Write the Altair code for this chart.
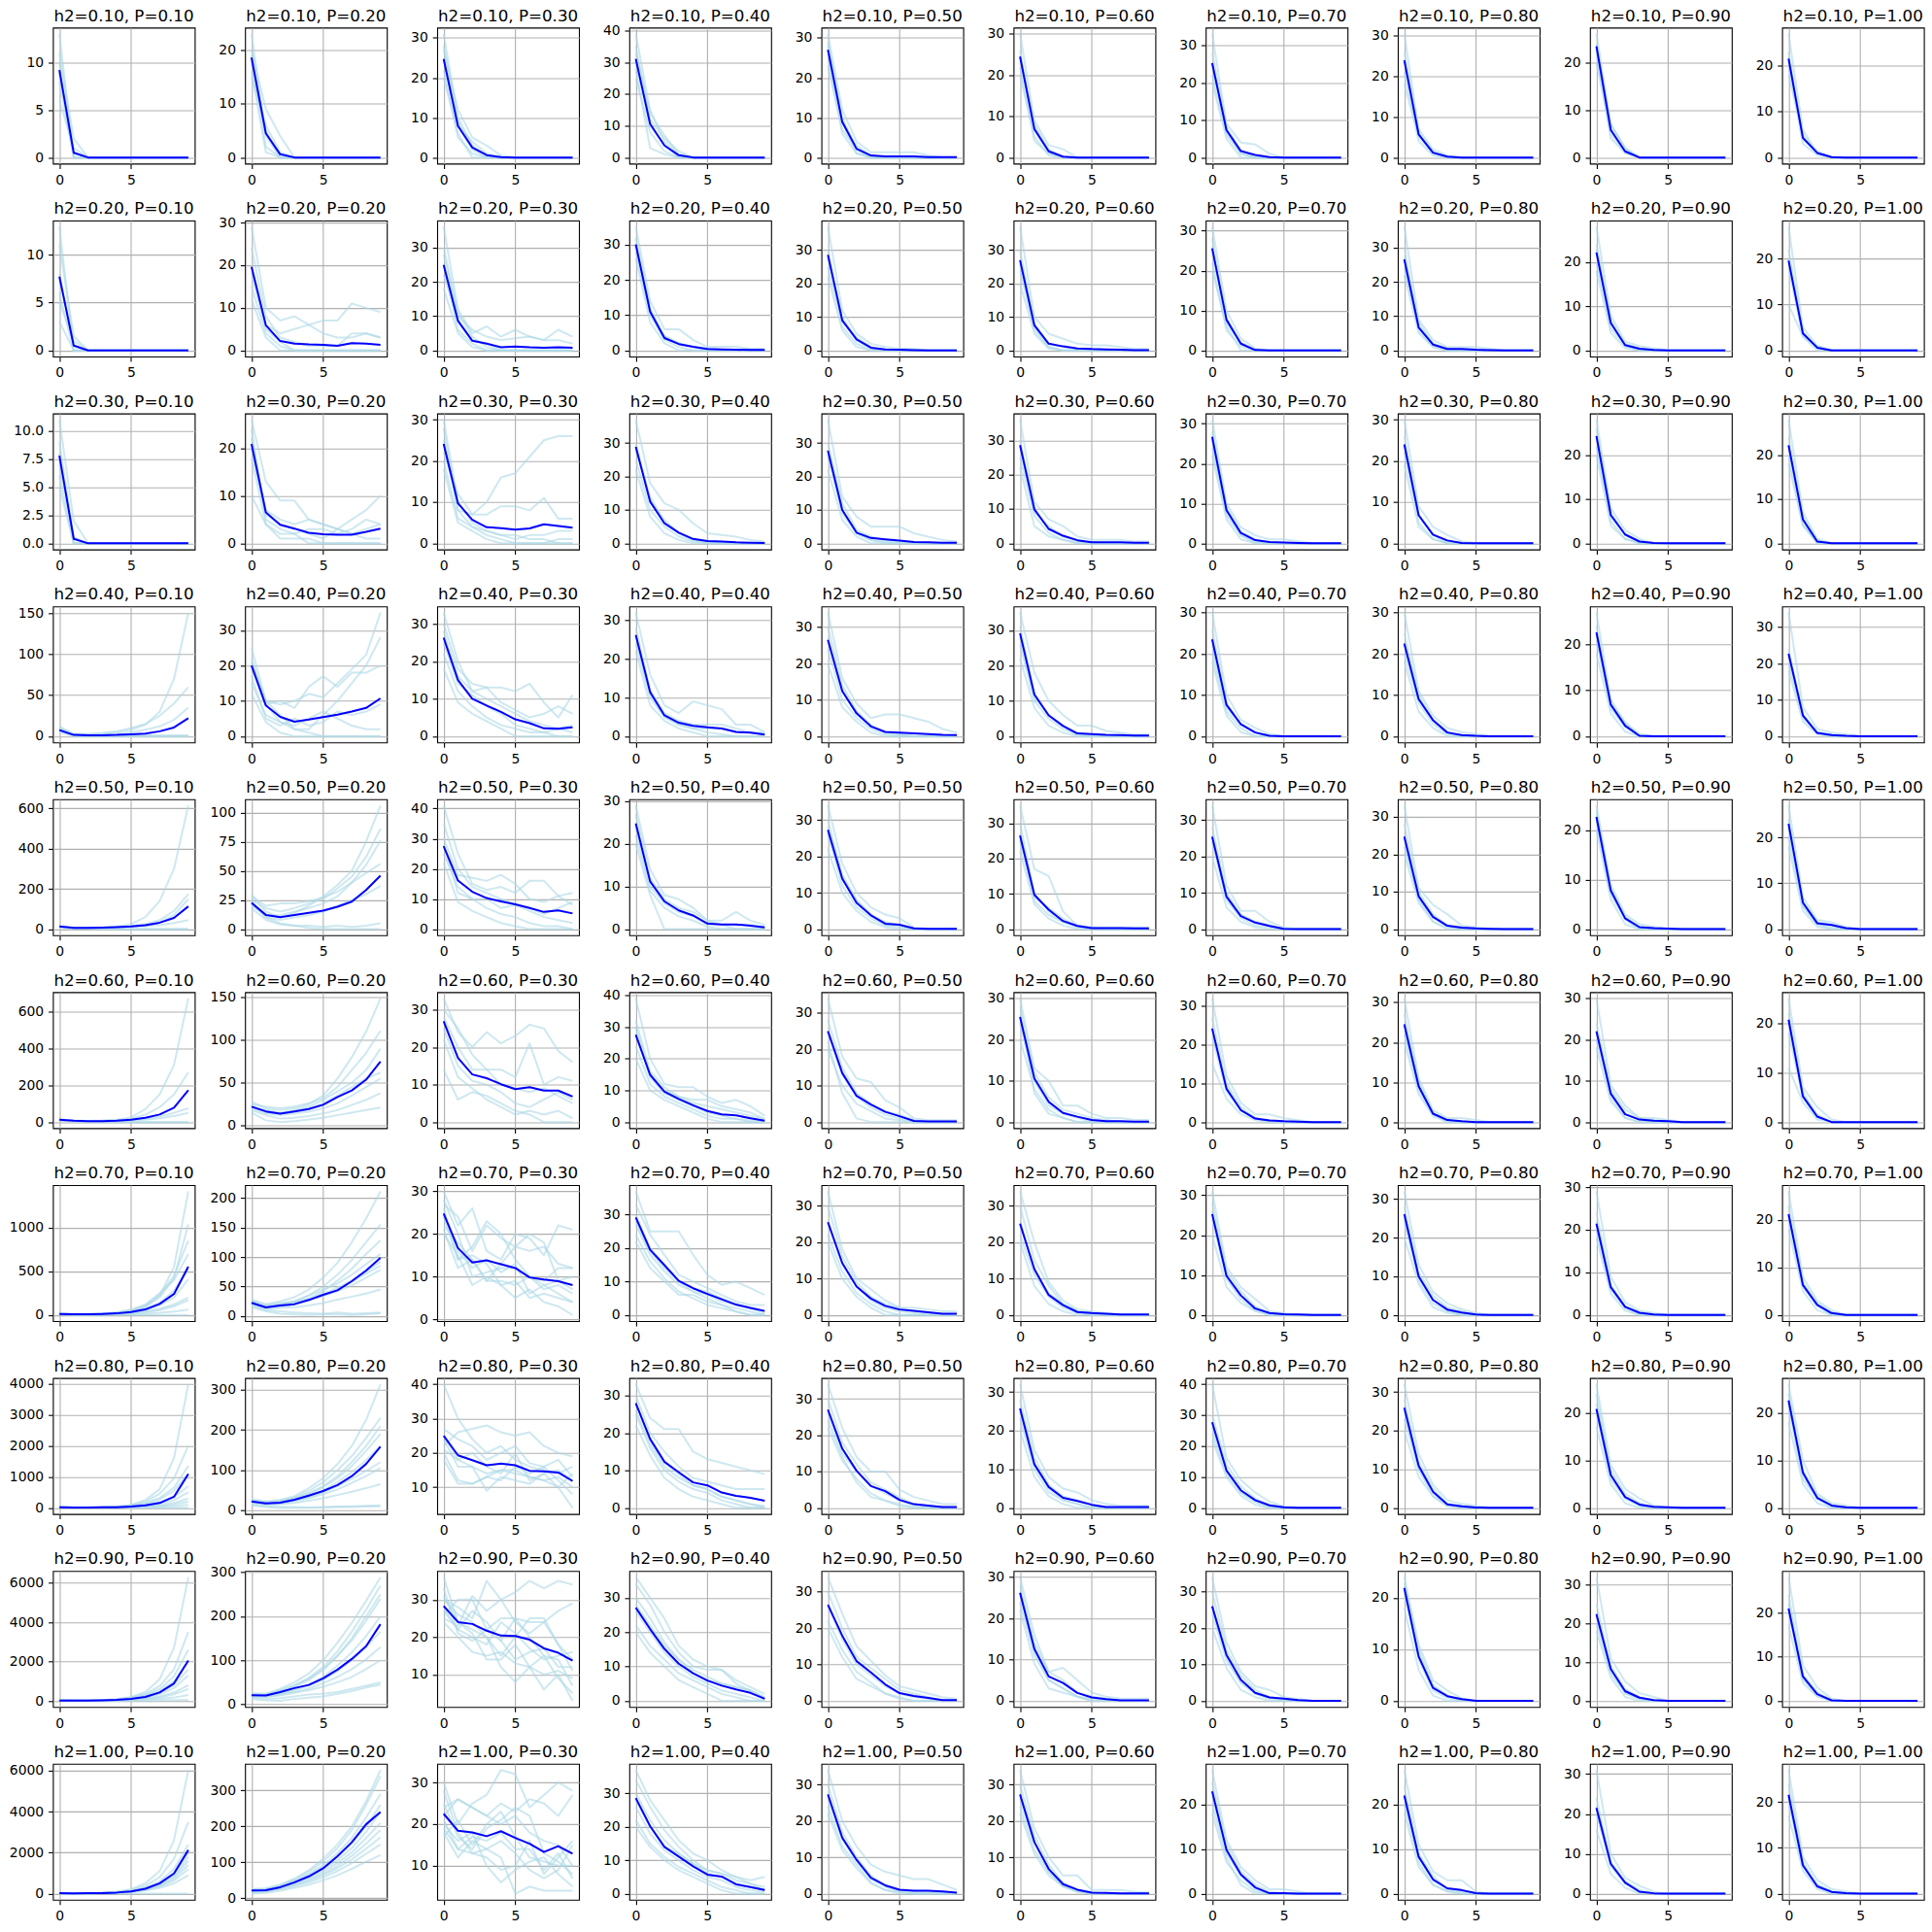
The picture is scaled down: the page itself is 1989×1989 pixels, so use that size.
import altair as alt
import pandas as pd

H2_VALUES = [0.10, 0.20, 0.30, 0.40, 0.50, 0.60, 0.70, 0.80, 0.90, 1.00]
P_VALUES = [0.10, 0.20, 0.30, 0.40, 0.50, 0.60, 0.70, 0.80, 0.90, 1.00]
X_STEPS = [0, 1, 2, 3, 4, 5, 6, 7, 8, 9]
X_TICKS = [0, 5]

# ---------------- h2 = 0.10 ----------------
MEAN_H010 = [
    [9.2, 0.5, 0, 0, 0, 0, 0, 0, 0, 0],
    [18.6, 4.5, 0.6, 0, 0, 0, 0, 0, 0, 0],
    [24.7, 7.9, 2.5, 0.6, 0.1, 0, 0, 0, 0, 0],
    [31.1, 10.6, 3.8, 0.7, 0, 0, 0, 0, 0, 0],
    [27.0, 8.9, 2.2, 0.5, 0.3, 0.3, 0.3, 0.1, 0.1, 0.1],
    [24.5, 6.9, 1.5, 0.2, 0, 0, 0, 0, 0, 0],
    [25.2, 7.3, 1.7, 0.7, 0.1, 0, 0, 0, 0, 0],
    [23.9, 5.7, 1.2, 0.2, 0, 0, 0, 0, 0, 0],
    [23.4, 5.8, 1.3, 0, 0, 0, 0, 0, 0, 0],
    [21.6, 4.3, 1.0, 0.1, 0, 0, 0, 0, 0, 0],
]
LIGHT_H010 = [
    [[13,0,0,0,0,0,0,0,0,0],[11,2,0,0,0,0,0,0,0,0],[10,0.5,0,0,0,0,0,0,0,0],[8,0,0,0,0,0,0,0,0,0],[6,1,0,0,0,0,0,0,0,0],[9,0,0,0,0,0,0,0,0,0]],
    [[23,4,0,0,0,0,0,0,0,0],[20,9,4,0,0,0,0,0,0,0],[18,2,0,0,0,0,0,0,0,0],[15,6,1,0,0,0,0,0,0,0],[16,1,0,0,0,0,0,0,0,0],[19,5,0,0,0,0,0,0,0,0]],
    [[31,10,3,0.5,0,0,0,0,0,0],[27,12,5,3,0.5,0,0,0,0,0],[22,5,1,0,0,0,0,0,0,0],[25,8,4,1,0,0,0,0,0,0],[20,6,0,0,0,0,0,0,0,0],[28,9,2,0,0,0,0,0,0,0]],
    [[39,15,5,1,0,0,0,0,0,0],[35,12,6,2,0,0,0,0,0,0],[28,3,1,0,0,0,0,0,0,0],[30,10,4,0,0,0,0,0,0,0],[25,8,2,0,0,0,0,0,0,0],[33,14,7,1,0,0,0,0,0,0]],
    [[31,12,4,1.3,1.3,1.3,1.3,0.5,0,0],[29,9,3,0.5,0,0,0,0,0,0],[25,6,1,0,0,0,0,0,0,0],[27,10,2,0,0,0,0,0,0,0],[23,7,2,0,0,0,0,0,0,0],[28,9,1,0,0,0,0,0,0,0]],
    [[30,9,3,2,0,0,0,0,0,0],[26,7,1,0,0,0,0,0,0,0],[20,5,0.5,0,0,0,0,0,0,0],[24,8,2,0,0,0,0,0,0,0],[22,4,1,0,0,0,0,0,0,0]],
    [[33,9,4,3.5,1,0,0,0,0,0],[28,8,2,0,0,0,0,0,0,0],[22,6,1,0,0,0,0,0,0,0],[25,7,1,0,0,0,0,0,0,0],[20,5,0,0,0,0,0,0,0,0]],
    [[30.4,7,2,0.5,0,0,0,0,0,0],[26,6,1.5,0,0,0,0,0,0,0],[21,4,0.5,0,0,0,0,0,0,0],[24,6,1,0,0,0,0,0,0,0],[18,5,1,0,0,0,0,0,0,0]],
    [[26,7,2,0,0,0,0,0,0,0],[24,6,1,0,0,0,0,0,0,0],[22,4,1,0,0,0,0,0,0,0],[23,7,2,0,0,0,0,0,0,0],[20,5,1,0,0,0,0,0,0,0]],
    [[27,6,1,0,0,0,0,0,0,0],[23,4,1.5,0,0,0,0,0,0,0],[20,3,0.5,0,0,0,0,0,0,0],[18,5,1,0,0,0,0,0,0,0],[22,4,1,0,0,0,0,0,0,0]],
]
TICKS_H010 = [[0,5,10],[0,10,20],[0,10,20,30],[0,10,20,30,40],[0,10,20,30],[0,10,20,30],[0,10,20,30],[0,10,20,30],[0,10,20],[0,10,20]]

# ---------------- h2 = 0.20 ----------------
MEAN_H020 = [
    [7.7, 0.5, 0, 0, 0, 0, 0, 0, 0, 0],
    [19.6, 5.9, 2.2, 1.6, 1.4, 1.3, 1.1, 1.7, 1.6, 1.3],
    [24.9, 8.6, 2.8, 2.0, 0.9, 1.1, 0.9, 0.8, 0.9, 0.8],
    [30.0, 11.0, 3.5, 1.8, 1.0, 0.4, 0.3, 0.2, 0.1, 0.1],
    [28.6, 9.0, 3.3, 0.8, 0.3, 0.2, 0.1, 0, 0, 0],
    [27.0, 7.5, 2.0, 1.2, 0.6, 0.4, 0.3, 0.2, 0.1, 0.1],
    [25.6, 7.7, 1.7, 0.1, 0, 0, 0, 0, 0, 0],
    [26.5, 6.7, 1.7, 0.4, 0.4, 0.2, 0.1, 0, 0, 0],
    [22.2, 6.2, 1.2, 0.4, 0.1, 0, 0, 0, 0, 0],
    [19.6, 3.7, 0.6, 0, 0, 0, 0, 0, 0, 0],
]
LIGHT_H020 = [
    [[12.9,0,0,0,0,0,0,0,0,0],[11,1.5,0,0,0,0,0,0,0,0],[8,0.5,0,0,0,0,0,0,0,0],[6,0,0,0,0,0,0,0,0,0],[3,0,0,0,0,0,0,0,0,0],[5,1,0,0,0,0,0,0,0,0]],
    [[29,10,7,8,6,4,3,3,4,3],[20,6,4,5,6,7,7,11,10,9],[24,8,3,2,1,1,1,4,4,3],[15,4,1,0,0,0,0,0,0,0],[18,5,2,0,0,0,0,0,0,0],[12,3,0,0,0,0,0,0,0,0]],
    [[36,12,5,7,4,6,4,3,6,4],[28,10,6,4,3,3.5,4,3,3,2],[22,9,3,2,0,0,0,0,0,0],[25,6,2,0,0,0,0,0,0,0],[18,5,1,0,0,0,0,0,0,0],[30,11,4,1,0,0,0,0,0,0]],
    [[35,14,6,6,3,1,1,1,0.5,0.5],[32,12,4,2,1,0.5,0,0,0,0],[28,10,3,1,0,0,0,0,0,0],[26,8,2,0,0,0,0,0,0,0],[30,11,4,2,1,0,0,0,0,0]],
    [[37,12,5,2,1,0.5,0.5,0,0,0],[30,9,4,1,0,0,0,0,0,0],[25,7,2,0,0,0,0,0,0,0],[28,10,3,0.5,0,0,0,0,0,0],[22,6,1,0,0,0,0,0,0,0]],
    [[37,10,5,3.5,2,1.5,1.5,1,0.5,0.5],[30,8,2,1,0.5,0,0,0,0,0],[24,6,1,0,0,0,0,0,0,0],[26,7,1,0,0,0,0,0,0,0],[20,5,0.5,0,0,0,0,0,0,0]],
    [[31,10,3,0.5,0,0,0,0,0,0],[28,8,2,0,0,0,0,0,0,0],[22,5,1,0,0,0,0,0,0,0],[25,7,1.5,0,0,0,0,0,0,0],[20,6,0,0,0,0,0,0,0,0]],
    [[36,9,3,1,1,1,0.5,0,0,0],[30,7,2,0.5,0,0,0,0,0,0],[24,6,1,0,0,0,0,0,0,0],[22,5,1,0,0,0,0,0,0,0],[27,8,2,0,0,0,0,0,0,0]],
    [[28,8,2,1,0.5,0,0,0,0,0],[24,7,1,0,0,0,0,0,0,0],[20,5,1,0,0,0,0,0,0,0],[18,4,0.5,0,0,0,0,0,0,0],[23,6,1.5,0.5,0,0,0,0,0,0]],
    [[27,5,1,0,0,0,0,0,0,0],[22,4,0.5,0,0,0,0,0,0,0],[18,3,1,0,0,0,0,0,0,0],[10,3,0,0,0,0,0,0,0,0],[20,4,0.5,0,0,0,0,0,0,0]],
]
TICKS_H020 = [[0,5,10],[0,10,20,30],[0,10,20,30],[0,10,20,30],[0,10,20,30],[0,10,20,30],[0,10,20,30],[0,10,20,30],[0,10,20],[0,10,20]]

# ---------------- h2 = 0.30 ----------------
MEAN_H030 = [
    [7.8, 0.4, 0, 0, 0, 0, 0, 0, 0, 0],
    [20.9, 6.5, 3.9, 3.1, 2.2, 1.9, 1.8, 1.8, 2.4, 3.1],
    [24.1, 9.7, 5.7, 3.9, 3.7, 3.3, 3.6, 4.6, 4.2, 3.8],
    [28.9, 12.5, 6.0, 3.2, 1.3, 0.7, 0.5, 0.3, 0.2, 0.1],
    [27.7, 10.0, 3.2, 1.6, 1.2, 0.8, 0.4, 0.3, 0.2, 0.2],
    [28.6, 9.9, 4.2, 2.2, 0.9, 0.3, 0.3, 0.3, 0.2, 0.2],
    [26.7, 8.3, 2.6, 0.8, 0.3, 0.2, 0.1, 0, 0, 0],
    [24.0, 6.8, 2.1, 0.7, 0.1, 0, 0, 0, 0, 0],
    [24.3, 6.4, 2.0, 0.4, 0.1, 0, 0, 0, 0, 0],
    [22.2, 5.4, 0.4, 0, 0, 0, 0, 0, 0, 0],
]
LIGHT_H030 = [
    [[11,2,0,0,0,0,0,0,0,0],[9,0.5,0,0,0,0,0,0,0,0],[8,0,0,0,0,0,0,0,0,0],[6,0,0,0,0,0,0,0,0,0],[5,0,0,0,0,0,0,0,0,0],[7,0.5,0,0,0,0,0,0,0,0]],
    [[26,13,9,9,5,4,3,2,1,1],[22,7,5,4,5,4,3,5,7,10],[10,4,2,2,3,3,2,3,5,4],[24,5,3,2,0,0,0,0,0,0],[20,6,4,3,2,1,3,2,3,4],[18,4,1,1,1,0,0,0,0,0]],
    [[28,8,7,10,16,17,21,25,26,26],[22,12,7,7,9,9,8,11,6,6],[30,10,5,3,2,1,2,2,3,3],[25,8,4,2,1,0,0,0,1,1],[20,6,4,3,2,2,1,1,0,0],[18,5,3,1,0,0,0,0,0,0]],
    [[37,18,12,10,6,3,2.5,2,1,0.5],[30,13,7,3,1,0.5,0,0,0,0],[25,10,5,2,0.5,0,0,0,0,0],[28,14,6,3,1,0,0,0,0,0],[22,8,3,1,0,0,0,0,0,0]],
    [[37,14,8,5,5,5,3,2,1,0.5],[30,12,4,2,1,0.5,0,0,0,0],[26,9,3,1,0,0,0,0,0,0],[22,7,2,0,0,0,0,0,0,0],[28,10,3,1,0.5,0,0,0,0,0]],
    [[36,12,7,5,2,1,1,1,0.5,0.5],[30,10,4,2,1,0,0,0,0,0],[25,8,3,1,0,0,0,0,0,0],[28,9,5,2,0.5,0,0,0,0,0],[22,5,2,1,0,0,0,0,0,0]],
    [[31,10,4,2,1,1,0.5,0,0,0],[28,9,3,1,0,0,0,0,0,0],[24,7,2,0,0,0,0,0,0,0],[26,8,2,0.5,0,0,0,0,0,0],[22,6,1,0,0,0,0,0,0,0]],
    [[30,9,4,2,0.5,0,0,0,0,0],[26,7,2,0.5,0,0,0,0,0,0],[22,5,1,0,0,0,0,0,0,0],[24,7,2,0,0,0,0,0,0,0],[19,4,1,0,0,0,0,0,0,0]],
    [[28,8,3,1,0,0,0,0,0,0],[26,7,2,0,0,0,0,0,0,0],[24,6,2,0.5,0,0,0,0,0,0],[22,5,1,0,0,0,0,0,0,0],[20,4,1,0,0,0,0,0,0,0]],
    [[28,7,1,0,0,0,0,0,0,0],[24,6,0.5,0,0,0,0,0,0,0],[22,5,0,0,0,0,0,0,0,0],[20,4,0.5,0,0,0,0,0,0,0],[18,4,0,0,0,0,0,0,0,0]],
]
TICKS_H030 = [[0,2.5,5,7.5,10],[0,10,20],[0,10,20,30],[0,10,20,30],[0,10,20,30],[0,10,20,30],[0,10,20,30],[0,10,20,30],[0,10,20],[0,10,20]]

# ---------------- h2 = 0.40 ----------------
MEAN_H040 = [
    [7.5, 1.6, 1.2, 1.2, 1.6, 2.4, 3.2, 6.0, 10.7, 22.0],
    [20.0, 8.7, 5.5, 4.1, 4.7, 5.4, 6.1, 7.0, 8.0, 10.7],
    [26.3, 15.0, 10.0, 8.2, 6.5, 4.5, 3.5, 2.1, 2.0, 2.4],
    [26.2, 11.4, 5.4, 3.5, 2.7, 2.3, 2.0, 1.1, 0.9, 0.4],
    [26.5, 12.4, 6.3, 2.7, 1.2, 1.0, 0.8, 0.6, 0.4, 0.3],
    [29.1, 11.8, 5.9, 2.9, 0.8, 0.6, 0.4, 0.3, 0.2, 0.2],
    [23.5, 7.6, 2.9, 0.9, 0.1, 0, 0, 0, 0, 0],
    [22.5, 9.0, 3.9, 0.9, 0.3, 0.1, 0, 0, 0, 0],
    [22.7, 6.9, 2.3, 0.1, 0, 0, 0, 0, 0, 0],
    [22.7, 5.7, 0.9, 0.3, 0.1, 0, 0, 0, 0, 0],
]
LIGHT_H040 = [
    [[10,2,2,3,5,8,14,30,70,151],[12,3,3,4,6,10,15,25,40,60],[8,1,1,2,3,5,8,12,20,35],[6,1,0,0,0,0,0,0,0,0],[5,0,0,0,0,0,0,0,0,0],[9,2,1,1,1,1,1,1,1,1]],
    [[25,10,9,10,12,11,15,19,23,35],[22,9,10,8,14,17,14,18,18,20],[15,6,4,3,5,7,5,3,2,2],[20,9,4,2,1,0,0,0,0,0],[17,5,3,5,3,4,7,6,7,9],[21,10,6,2,2,6,10,15,20,28],[12,4,1,0,0,0,0,0,0,0]],
    [[33,20,12,13,13,12,14,9,5,11],[30,18,14,13,9,7,5,6,8,6],[25,14,11,8,6,3,2,1,2,3],[22,12,8,5,3,2,1,1,0,0],[18,9,6,4,2,0,0,0,0,0],[28,16,12,10,8,6,4,3,2,1]],
    [[32,16,8,6,9,8,7,3,3,1],[28,12,6,4,3,3,3,2,1,0.5],[24,10,5,3,2,1,0.5,0,0,0],[22,8,4,2,1,0,0,0,0,0],[26,11,5,3,2,2,2,1,1,1]],
    [[34,16,9,5,6,6,5,4,2,1],[30,14,7,3,1,0.5,0,0,0,0],[24,10,5,2,0.5,0,0,0,0,0],[20,8,4,1,0,0,0,0,0,0],[27,13,6,3,1,0.5,0,0,0,0]],
    [[35,18,10,6,3,3,1.5,1,0.5,0.5],[31,12,6,3,1,0.5,0,0,0,0],[26,10,5,2,0.5,0,0,0,0,0],[28,11,6,3,0,0,0,0,0,0],[22,8,3,1,0,0,0,0,0,0]],
    [[30,10,4,2,0.5,0,0,0,0,0],[26,8,3,1,0,0,0,0,0,0],[22,7,3,1,0,0,0,0,0,0],[20,6,2,0,0,0,0,0,0,0],[18,5,1,0,0,0,0,0,0,0]],
    [[30,11,5,2,1,0.5,0,0,0,0],[25,10,4,1,0,0,0,0,0,0],[20,8,3,0.5,0,0,0,0,0,0],[22,9,4,1,0,0,0,0,0,0],[18,6,2,0,0,0,0,0,0,0]],
    [[27,8,3,0.5,0,0,0,0,0,0],[24,7,2.5,0,0,0,0,0,0,0],[21,6,2,0,0,0,0,0,0,0],[22,7,3,0,0,0,0,0,0,0],[18,5,1,0,0,0,0,0,0,0]],
    [[34,8,2,1,0.5,0,0,0,0,0],[24,6,1,0,0,0,0,0,0,0],[20,5,1,0,0,0,0,0,0,0],[18,4,0.5,0,0,0,0,0,0,0],[22,6,1,0.5,0,0,0,0,0,0]],
]
TICKS_H040 = [[0,50,100,150],[0,10,20,30],[0,10,20,30],[0,10,20,30],[0,10,20,30],[0,10,20,30],[0,10,20,30],[0,10,20,30],[0,10,20],[0,10,20,30]]

# ---------------- h2 = 0.50 ----------------
MEAN_H050 = [
    [13, 6, 6, 8, 10, 13, 19, 32, 56, 113],
    [22.5, 12.2, 10.3, 12.2, 13.9, 15.8, 19.2, 23.6, 33.6, 45.8],
    [27.5, 16.1, 12.4, 10.3, 9.2, 8.2, 7.0, 5.7, 6.2, 5.2],
    [24.8, 11.2, 6.5, 4.4, 3.2, 1.3, 1.1, 1.1, 0.8, 0.4],
    [27.3, 13.9, 7.2, 3.8, 1.5, 1.2, 0.2, 0.1, 0.1, 0.1],
    [26.5, 9.7, 5.5, 2.3, 0.9, 0.3, 0.3, 0.3, 0.2, 0.2],
    [25.4, 8.9, 3.6, 1.8, 0.9, 0.1, 0, 0, 0, 0],
    [24.7, 8.8, 3.3, 0.9, 0.4, 0.2, 0.1, 0, 0, 0],
    [22.7, 7.8, 2.2, 0.4, 0.2, 0.1, 0, 0, 0, 0],
    [23.0, 5.8, 1.3, 0.9, 0.2, 0, 0, 0, 0, 0],
]
LIGHT_H050 = [
    [[15,5,6,8,12,25,60,140,300,615],[12,5,5,8,10,15,25,45,90,175],[10,4,5,6,8,12,20,35,70,150],[14,6,6,7,9,11,15,20,30,45],[8,2,1,0,0,0,0,0,0,0],[10,3,2,1,0,0,0,0,0,0]],
    [[30,15,10,14,20,28,38,50,75,106],[25,18,15,18,22,26,35,45,62,86],[20,12,12,15,18,22,28,40,55,76],[28,20,22,22,24,27,32,40,48,56],[22,10,8,10,12,15,20,25,30,37],[18,8,4,3,3,2,3,2,3,5],[24,10,5,3,1,0,0,0,0,0]],
    [[41,25,15,13,14,12,16,16,11,12],[30,18,17,16,18,15,10,9,11,8],[35,20,14,12,10,8,7,5,7,9],[22,9,6,4,2,1,0,0,0,0],[25,14,10,7,5,4,2,1,1,0],[28,12,10,10,7,8,6,4,3,2]],
    [[29,14,8,7,5,2,2,4,2,1],[27,12,7,5,4,2,1,1,1,0.5],[24,10,6,4,3,1,1,0,0,0],[22,9,5,3,2,0.5,0,0,0,0],[20,8,0,0,0,0,0,0,0,0]],
    [[34,18,10,6,4,3,0.5,0,0,0],[30,15,8,4,2,1,0,0,0,0],[26,12,6,3,1,0.5,0,0,0,0],[22,10,5,2,0.5,0,0,0,0,0],[28,14,8,4,1,1,0,0,0,0]],
    [[35,17,15,5,1,0.5,0.5,0.5,0.5,0.5],[30,10,5,2,1,0,0,0,0,0],[25,8,4,2,0.5,0,0,0,0,0],[22,7,3,1,0,0,0,0,0,0],[27,9,6,3,1,0.5,0,0,0,0]],
    [[34,12,5,5,2,0.5,0,0,0,0],[28,10,4,2,1,0,0,0,0,0],[24,8,3,1,0.5,0,0,0,0,0],[20,6,2,0.5,0,0,0,0,0,0],[26,9,4,2,1,0,0,0,0,0]],
    [[33,11,6.5,4,1,0.5,0,0,0,0],[28,10,4,1,0.5,0,0,0,0,0],[24,8,3,1,0,0,0,0,0,0],[20,7,2,0,0,0,0,0,0,0],[22,8,2,0.5,0,0,0,0,0,0]],
    [[25,9,3,1,0.5,0,0,0,0,0],[24,8,2.5,0.5,0,0,0,0,0,0],[22,7,2,0,0,0,0,0,0,0],[20,6,1,0,0,0,0,0,0,0],[23,8,2,0,0,0,0,0,0,0]],
    [[27,7,2,1.5,0.5,0,0,0,0,0],[24,6,1.5,1,0,0,0,0,0,0],[22,5,1,0.5,0,0,0,0,0,0],[20,5,1,0,0,0,0,0,0,0],[18,4,0.5,0,0,0,0,0,0,0]],
]
TICKS_H050 = [[0,200,400,600],[0,25,50,75,100],[0,10,20,30,40],[0,10,20,30],[0,10,20,30],[0,10,20,30],[0,10,20,30],[0,10,20,30],[0,10,20],[0,10,20]]

# ---------------- h2 = 0.60 ----------------
MEAN_H060 = [
    [12, 7, 5, 5, 7, 12, 23, 41, 78, 173],
    [22, 16.5, 13.8, 16.5, 19.2, 24.2, 33.4, 41, 53.7, 74.8],
    [26.9, 17.1, 12.7, 11.7, 10.1, 8.8, 9.3, 8.4, 8.4, 6.8],
    [27.5, 14.9, 9.6, 7.3, 5.3, 3.5, 2.4, 2.1, 1.2, 0.4],
    [25.0, 13.5, 7.2, 4.8, 2.8, 1.6, 0.3, 0.2, 0.2, 0.2],
    [25.5, 10.6, 4.9, 2.2, 1.3, 0.5, 0.2, 0.2, 0.1, 0.1],
    [24.2, 8.6, 3.1, 0.9, 0.4, 0.2, 0.1, 0, 0, 0],
    [24.5, 9.0, 2.1, 0.5, 0.2, 0, 0, 0, 0, 0],
    [22.0, 6.9, 1.9, 0.6, 0.3, 0.2, 0, 0, 0, 0],
    [20.7, 5.2, 1.1, 0, 0, 0, 0, 0, 0, 0],
]
LIGHT_H060 = [
    [[15,8,6,8,12,25,70,150,310,672],[12,6,5,6,10,18,40,80,150,270],[10,5,4,5,6,10,18,30,50,75],[11,6,5,5,6,8,12,20,32,50],[8,3,1,0,0,0,0,0,0,0],[9,4,2,1,0,0,0,0,0,0]],
    [[28,20,18,20,25,35,55,80,110,149],[25,22,20,22,26,32,45,65,85,111],[22,18,15,17,20,26,35,45,55,62],[20,14,12,14,16,20,26,35,45,55],[18,12,8,9,11,14,18,24,30,38],[15,6,4,5,7,9,12,15,18,21],[24,15,14,18,22,30,40,50,65,90]],
    [[33,24,20,24,21,23,26,25,19,16],[30,25,18,14,14,12,21,10,12,11],[28,20,14,14,10,9,8,9,7,5],[25,15,11,10,8,5,4,6,8,6],[14,6,8,7,5,3,2,0,0,0],[22,12,9,6,4,2,3,2,3,1]],
    [[39,20,12,11,11,8,6,7,5,2],[32,16,11,8,6,5,4,3,2,1],[28,14,9,7,5,3,2,1,0.5,0],[24,12,8,6,4,2,1,1,0,0],[20,10,7,5,3,1,0,0,0,0],[30,15,10,8,7,7,5,4,3,1]],
    [[34,18,12,11,6,4,1,0.5,0.5,0.5],[28,15,8,5,3,2,0.5,0,0,0],[25,13,7,4,2,1,0,0,0,0],[20,10,5,3,1,0.5,0,0,0,0],[22,8,1,0,0,0,0,0,0,0]],
    [[30,13,10,4,4,2,1,1,0.5,0.5],[28,12,6,3,2,1,0.5,0,0,0],[24,10,4,2,1,0,0,0,0,0],[20,8,3,1,0,0,0,0,0,0],[26,7,2,1,0,0,0,0,0,0]],
    [[32,12,5,2,2,1,0.5,0,0,0],[27,10,4,1,0.5,0,0,0,0,0],[22,8,3,1,0,0,0,0,0,0],[15,6,2,0.5,0,0,0,0,0,0],[24,9,3,1,0,0,0,0,0,0]],
    [[31,11,3,1,1,0.5,0,0,0,0],[27,10,2.5,0.5,0,0,0,0,0,0],[24,9,2,0.5,0,0,0,0,0,0],[20,7,1.5,0,0,0,0,0,0,0],[22,8,2,0,0,0,0,0,0,0]],
    [[30,9,4,1,1,0.5,0,0,0,0],[24,8,3,1,0.5,0,0,0,0,0],[20,7,2,0.5,0,0,0,0,0,0],[18,5,1,0,0,0,0,0,0,0],[22,6,1,0,0,0,0,0,0,0]],
    [[25,7,3,0.5,0,0,0,0,0,0],[22,6,1.5,0,0,0,0,0,0,0],[20,5,1,0,0,0,0,0,0,0],[11,4,0.5,0,0,0,0,0,0,0],[18,5,1,0,0,0,0,0,0,0]],
]
TICKS_H060 = [[0,200,400,600],[0,50,100,150],[0,10,20,30],[0,10,20,30,40],[0,10,20,30],[0,10,20,30],[0,10,20,30],[0,10,20,30],[0,10,20,30],[0,10,20]]

# ---------------- h2 = 0.70 ----------------
MEAN_H070 = [
    [11, 7, 7, 11, 18, 33, 63, 126, 240, 555],
    [22.4, 14.8, 18.0, 20.2, 27.3, 36.0, 43.7, 59.0, 77.0, 98.4],
    [24.8, 16.7, 13.3, 13.8, 12.9, 12.0, 9.8, 9.3, 8.9, 8.0],
    [29.2, 19.5, 14.9, 10.2, 8.0, 6.3, 4.7, 3.1, 2.1, 1.2],
    [25.5, 14.3, 7.8, 4.5, 2.5, 1.5, 1.1, 0.7, 0.3, 0.3],
    [25.1, 12.6, 5.5, 2.7, 0.8, 0.5, 0.3, 0.1, 0.1, 0.1],
    [25.3, 9.8, 4.9, 1.6, 0.5, 0.2, 0.1, 0, 0, 0],
    [26.1, 10.0, 3.9, 1.4, 0.6, 0.1, 0, 0, 0, 0],
    [21.4, 6.5, 1.9, 0.5, 0.1, 0, 0, 0, 0, 0],
    [21.2, 6.3, 2.1, 0.4, 0, 0, 0, 0, 0, 0],
]
LIGHT_H070 = [
    [[15,8,8,12,25,50,100,220,550,1418],[12,7,7,12,22,45,90,200,420,1040],[10,6,8,14,25,55,110,230,450,850],[12,8,10,15,30,60,120,250,400,700],[10,7,7,10,18,35,70,140,280,520],[8,6,6,9,15,28,55,110,200,410],[10,5,5,7,12,22,40,70,120,200],[9,5,5,6,10,18,30,55,100,170],[8,4,4,5,7,10,15,25,40,60],[6,2,1,0,0,0,0,0,0,0]],
    [[28,20,25,32,45,65,90,125,165,211],[25,18,20,25,35,50,70,95,125,155],[22,15,18,22,30,42,60,80,105,128],[20,16,20,25,35,45,55,70,88,105],[24,14,18,22,28,38,48,60,75,92],[22,15,16,20,26,35,45,58,72,85],[26,18,22,24,28,34,42,52,65,78],[20,12,14,15,18,22,28,33,38,45],[18,10,8,6,5,4,6,4,5,6],[15,8,4,3,2,3,3,2,3,5]],
    [[30,22,26,16,14,20,19,15,22,21],[27,24,16,22,19,17,16,17,13,12],[24,14,17,23,20,14,10,9,12,12],[22,18,14,9,13,17,20,18,9,7],[20,15,8,10,8,9,5,6,5,4],[26,14,15,13,8,5,7,4,3,1],[28,20,10,11,12,12,10,8,6,4],[21,12,14,9,9,8,10,7,8,6],[25,16,12,14,11,13,6,8,9,10]],
    [[37,25,25,25,18,12,9,10,8,6],[33,24,18,12,10,8,6,4,3,3],[30,20,15,10,7,6,4,3,2,1],[27,18,13,9,7,5,3,2,1,0],[24,16,11,7,5,3,2,1,0,0],[22,14,10,6,6,4,3,1,0,0],[28,19,14,10,8,7,5,3,2,0.5]],
    [[34,18,10,7,4,2,2,1.5,1,1],[30,16,9,5,3,2,1,0.5,0,0],[26,14,8,4,2,1,0.5,0,0,0],[22,12,6,3,1,0,0,0,0,0],[20,10,5,2,0,0,0,0,0,0]],
    [[34,20,9,4,1.5,1,0.5,0,0,0],[30,15,8,3,1,0.5,0,0,0,0],[26,12,6,3,1,0,0,0,0,0],[20,8,3,1,0,0,0,0,0,0],[22,11,5,2,0.5,0,0,0,0,0]],
    [[31,12,7,4,1,0.5,0,0,0,0],[28,11,6,2,0.5,0,0,0,0,0],[24,9,4,1,0,0,0,0,0,0],[20,7,3,1,0,0,0,0,0,0],[26,10,5,2,0.5,0,0,0,0,0]],
    [[32,13,6,3,1.5,0.5,0,0,0,0],[28,11,5,2,1,0,0,0,0,0],[25,10,4,1,0,0,0,0,0,0],[20,8,2,0.5,0,0,0,0,0,0],[24,9,3,1,0,0,0,0,0,0]],
    [[29,9,3,1,0.5,0,0,0,0,0],[24,7,2,0.5,0,0,0,0,0,0],[20,6,1.5,0,0,0,0,0,0,0],[18,5,1,0,0,0,0,0,0,0],[22,7,2,0.5,0,0,0,0,0,0]],
    [[26,8,3,1,0,0,0,0,0,0],[23,7,2.5,0.5,0,0,0,0,0,0],[20,6,2,0,0,0,0,0,0,0],[18,5,1,0,0,0,0,0,0,0],[21,6,2,0,0,0,0,0,0,0]],
]
TICKS_H070 = [[0,500,1000],[0,50,100,150,200],[0,10,20,30],[0,10,20,30],[0,10,20,30],[0,10,20,30],[0,10,20,30],[0,10,20,30],[0,10,20,30],[0,10,20]]

# ---------------- h2 = 0.80 ----------------
MEAN_H080 = [
    [20, 10, 10, 15, 20, 40, 84, 157, 356, 1089],
    [22, 17, 18.7, 26, 36.6, 48, 62.6, 85, 115.4, 158.5],
    [25, 19.3, 17.9, 16.4, 16.9, 16.4, 14.8, 14.6, 14.3, 11.8],
    [27.9, 18.4, 12.3, 9.5, 6.8, 6.0, 4.1, 3.2, 2.7, 1.9],
    [27.0, 16.3, 10.2, 6.0, 4.6, 2.2, 1.0, 0.6, 0.2, 0.2],
    [25.7, 11.3, 5.4, 2.6, 1.8, 0.8, 0.2, 0.2, 0.2, 0.2],
    [27.7, 12.1, 5.7, 2.5, 0.8, 0.2, 0, 0, 0, 0],
    [25.9, 10.9, 4.2, 0.9, 0.4, 0.1, 0, 0, 0, 0],
    [20.8, 6.9, 2.3, 0.7, 0.2, 0.1, 0, 0, 0, 0],
    [22.6, 7.4, 2.1, 0.5, 0.1, 0, 0, 0, 0, 0],
]
LIGHT_H080 = [
    [[25,12,12,20,40,100,250,600,1600,3980],[20,10,12,18,35,80,200,450,950,2000],[22,12,14,20,35,70,150,320,650,1350],[18,10,10,16,30,60,130,270,550,1100],[20,9,10,15,25,45,90,180,350,700],[15,8,9,12,20,35,65,130,250,500],[18,8,8,10,16,28,45,85,160,300],[16,7,7,9,13,20,35,60,110,200],[14,6,6,8,10,15,22,35,60,100],[10,4,2,1,0,0,0,0,0,0]],
    [[28,22,26,35,55,80,115,160,225,314],[25,20,24,32,48,70,100,135,180,230],[22,18,22,30,42,60,85,120,160,210],[24,20,22,28,40,58,80,110,148,190],[20,16,18,25,35,50,70,95,125,160],[22,17,18,24,32,44,60,78,98,120],[20,15,16,22,30,40,52,68,85,105],[18,14,15,18,24,30,38,46,55,65],[15,10,8,8,7,8,9,10,11,12],[12,8,6,6,6,7,8,8,9,10]],
    [[40,30,24,20,22,18,16,15,14,16],[22,26,27,28,26,25,26,22,20,19],[27,24,22,18,20,22,17,16,18,13],[20,12,11,13,15,14,13,12,13,10],[25,18,16,9,13,12,11,14,15,12],[18,11,11,13,12,16,14,16,12,8],[24,16,16,14,15,15,13,12,10,4],[21,18,20,16,14,20,12,14,10,14]],
    [[33,24,21,21,15,13,12,11,10,9],[30,20,15,11,8,7,6,5,5,5],[28,18,12,9,6,5,3,2,1,0.5],[25,16,10,7,5,4,2,1,0,0],[22,14,8,5,3,2,1,0,0,0],[26,17,11,8,6,5,3,2,1,0]],
    [[34,22,14,10,10,5,3,2,1,1],[30,18,12,7,5,3,1,0.5,0,0],[26,15,10,6,4,2,0.5,0,0,0],[22,13,8,4,2,1,0,0,0,0],[24,14,7,3,2,0.5,0,0,0,0]],
    [[32,15,8,5,4,2,1,0.5,0.5,0.5],[28,13,6,3,2,1,0,0,0,0],[25,11,5,2,1,0,0,0,0,0],[20,8,3,1,0,0,0,0,0,0],[23,10,4,2,1,0,0,0,0,0]],
    [[40,16,9,5,2,0.5,0,0,0,0],[30,14,7,3,1,0,0,0,0,0],[26,12,5,2,0.5,0,0,0,0,0],[22,10,4,1,0,0,0,0,0,0],[24,11,5,2,0,0,0,0,0,0]],
    [[32,14,6,2,1,0.5,0,0,0,0],[28,12,5,1,0.5,0,0,0,0,0],[25,10,4,1,0,0,0,0,0,0],[20,8,3,0.5,0,0,0,0,0,0],[23,10,3,0.5,0,0,0,0,0,0]],
    [[26,9,4,2,0.5,0,0,0,0,0],[22,8,3,1,0,0,0,0,0,0],[20,6,2,0.5,0,0,0,0,0,0],[17,5,1,0,0,0,0,0,0,0],[24,7,2,0.5,0,0,0,0,0,0]],
    [[26,10,3,1,0.5,0,0,0,0,0],[24,8,2.5,0.5,0,0,0,0,0,0],[22,7,2,0.5,0,0,0,0,0,0],[18,5,1,0,0,0,0,0,0,0],[21,6,2,0,0,0,0,0,0,0]],
]
TICKS_H080 = [[0,1000,2000,3000,4000],[0,100,200,300],[10,20,30,40],[0,10,20,30],[0,10,20,30],[0,10,20,30],[0,10,20,30,40],[0,10,20,30],[0,10,20],[0,10,20]]

# ---------------- h2 = 0.90 ----------------
MEAN_H090 = [
    [20, 12, 15, 25, 50, 100, 200, 430, 890, 2050],
    [20.6, 19.9, 27.9, 36.8, 44.0, 58.8, 78.7, 103, 132, 182],
    [28.3, 24.0, 23.5, 21.7, 20.4, 20.3, 19.3, 17.0, 15.8, 13.7],
    [27.1, 20.9, 15.1, 10.8, 8.0, 5.9, 4.4, 3.3, 2.3, 0.6],
    [26.4, 17.9, 10.9, 7.8, 4.5, 2.1, 1.3, 0.8, 0.2, 0.2],
    [26.2, 12.6, 5.9, 4.3, 1.9, 0.8, 0.4, 0.1, 0.1, 0.1],
    [26.0, 12.6, 5.8, 2.2, 0.9, 0.6, 0.2, 0, 0, 0],
    [21.9, 8.6, 2.5, 0.9, 0.3, 0, 0, 0, 0, 0],
    [22.4, 8.2, 2.5, 0.8, 0.2, 0, 0, 0, 0, 0],
    [20.9, 5.5, 1.5, 0.1, 0, 0, 0, 0, 0, 0],
]
LIGHT_H090 = [
    [[25,15,20,40,90,200,450,1100,2700,6290],[22,14,18,35,75,160,350,750,1600,3500],[20,12,16,30,65,140,300,600,1250,2600],[18,12,15,28,55,120,250,500,1000,2000],[20,11,14,25,50,100,200,400,800,1600],[16,10,12,22,45,90,180,330,650,1300],[18,10,12,20,38,70,130,230,420,800],[15,9,10,16,30,55,100,180,330,600],[14,8,9,12,20,35,60,100,170,300],[12,6,6,7,9,12,17,24,35,50]],
    [[25,24,35,50,70,100,140,185,235,289],[22,22,30,42,60,85,120,165,215,270],[24,20,28,40,55,78,110,150,200,250],[20,22,32,44,58,80,110,145,190,240],[18,18,24,32,44,62,88,118,155,200],[22,20,26,34,42,55,75,100,130,165],[20,18,22,28,36,48,62,80,102,130],[18,16,20,26,32,40,50,62,80,100],[15,12,14,18,22,24,28,35,42,50],[12,9,8,12,15,18,24,30,38,45]],
    [[30,28,25,35,30,32,35,33,35,34],[26,30,30,22,25,25,24,24,27,29],[31,24,22,20,15,20,25,25,18,14],[28,22,20,18,24,21,17,14,15,16],[24,20,16,15,16,13,12,10,11,9],[30,26,24,20,12,8,12,6,10,3],[27,22,27,24,19,25,20,15,14,7],[33,21,19,22,19,14,16,17,12,12],[36,24,21,14,14,18,12,15,9,5],[25,23,31,27,30,24,21,24,18,11]],
    [[36,30,24,16,12,10,9,6,4,2],[34,28,20,14,10,9,9,5,3,1],[30,24,17,12,9,7,5,4,3,1],[26,20,14,10,7,5,3,2,1,0],[22,16,12,8,6,4,2,1,0,0],[20,14,10,6,4,2,0,0,0,0],[28,22,16,12,8,6,5,4,3,0.5]],
    [[34,24,15,11,7,4,3,2,1,0.5],[30,20,12,9,6,3,2,1,0,0],[26,17,10,7,4,2,1,0.5,0,0],[22,14,8,5,2,1,0,0,0,0],[20,12,6,4,2,0.5,0,0,0,0]],
    [[30,16,7,8,5,2,1,0.5,0.5,0.5],[28,14,7,5,2,1,0.5,0,0,0],[26,12,5,3,1,0.5,0,0,0,0],[22,9,3,2,1,0,0,0,0,0],[24,11,5,3,1,0,0,0,0,0]],
    [[34,16,8,4,3,1,0.5,0,0,0],[30,14,7,3,1,0.5,0,0,0,0],[26,12,5,2,0.5,0,0,0,0,0],[20,9,3,1,0,0,0,0,0,0],[24,11,5,2,1,0.5,0,0,0,0]],
    [[24,11,4,2,0.5,0,0,0,0,0],[23,10,3,1,0,0,0,0,0,0],[21,8,2,0.5,0,0,0,0,0,0],[18,6,1,0,0,0,0,0,0,0],[22,9,3,1,0,0,0,0,0,0]],
    [[32,11,5,2,1,0,0,0,0,0],[25,9,3,1,0,0,0,0,0,0],[22,8,2,0.5,0,0,0,0,0,0],[18,6,1,0,0,0,0,0,0,0],[20,7,2,0.5,0,0,0,0,0,0]],
    [[28,8,3,0.5,0,0,0,0,0,0],[24,6,2,0,0,0,0,0,0,0],[20,5,1,0,0,0,0,0,0,0],[17,4,1,0,0,0,0,0,0,0],[22,5,1.5,0,0,0,0,0,0,0]],
]
TICKS_H090 = [[0,2000,4000,6000],[0,100,200,300],[10,20,30],[0,10,20,30],[0,10,20,30],[0,10,20,30],[0,10,20,30],[0,10,20],[0,10,20,30],[0,10,20]]

# ---------------- h2 = 1.00 ----------------
MEAN_H100 = [
    [20, 15, 20, 30, 55, 111, 238, 508, 984, 2127],
    [21.8, 22.7, 30.9, 44.5, 61.0, 83.6, 117, 156, 206, 240],
    [22.5, 18.4, 18.0, 17.1, 18.3, 16.7, 15.3, 13.3, 14.7, 12.9],
    [28.6, 20.2, 14.0, 11.1, 8.2, 5.7, 5.1, 2.8, 2.0, 1.1],
    [27.3, 15.4, 9.3, 4.4, 2.3, 1.1, 0.8, 0.8, 0.6, 0.3],
    [27.3, 14.2, 6.8, 2.6, 1.1, 0.3, 0.2, 0.1, 0.1, 0.1],
    [22.9, 9.8, 4.3, 1.4, 0.1, 0.1, 0, 0, 0, 0],
    [22.0, 8.3, 3.2, 1.2, 0.8, 0.1, 0, 0, 0, 0],
    [21.5, 7.5, 2.8, 0.5, 0.1, 0, 0, 0, 0, 0],
    [21.6, 6.2, 1.6, 0.4, 0.1, 0, 0, 0, 0, 0],
]
LIGHT_H100 = [
    [[25,18,25,45,100,220,500,1100,2600,6030],[22,16,22,40,85,180,380,800,1700,3500],[20,15,20,36,75,150,300,600,1200,2400],[18,14,18,32,65,130,260,500,1000,2000],[20,14,18,30,60,120,240,460,900,1800],[18,13,17,28,55,110,220,420,820,1600],[17,12,16,26,50,100,200,380,730,1400],[16,12,15,24,45,90,180,340,640,1200],[15,11,14,22,40,80,150,280,500,900],[10,5,3,2,1,0,0,0,0,0]],
    [[26,28,38,55,78,110,150,200,270,357],[24,26,36,52,74,102,140,190,260,340],[22,25,34,49,68,92,126,168,225,290],[23,24,33,46,64,86,116,152,200,260],[20,23,31,44,60,80,106,140,185,240],[21,22,30,41,56,74,98,128,168,210],[19,21,29,39,52,68,90,118,152,190],[18,20,27,37,49,64,84,108,138,170],[16,18,25,34,45,58,76,98,124,150],[13,15,21,29,38,50,64,82,102,120]],
    [[30,20,25,27,33,32,24,27,30,28],[22,26,24,22,25,23,26,25,22,27],[24,26,24,22,20,22,18,16,15,10],[17,21,15,20,23,17,12,11,10,10],[20,16,18,10,6,9,11,12,8,5],[18,12,16,14,12,3.3,5,4,4,4],[25,17,14,19,21,24,22,13,11,8],[21,14,17,16,18,14,14,9,13,7],[28,18,13,12,9,10,16,8,12,16],[19,14,13,14,16,13,9,7,9,15]],
    [[37,28,22,16,12,10,7,5,3,2],[34,26,19,14,10,7,6,5,4,5],[30,22,16,12,9,6,5,3,2,1],[26,18,13,10,7,5,4,2,1,0.5],[22,15,11,8,6,4,2,1,0,0],[20,14,10,7,5,3,1,0,0,0],[28,20,14,12,9,7,6,4,3,1]],
    [[34,20,13,8,6,5,4,4,2.5,1],[30,17,10,5,2,1,0.5,0.5,0,0],[26,15,9,4,2,0.5,0,0,0,0],[22,12,7,3,1,0,0,0,0,0],[24,13,8,3,1,0.5,0,0,0,0]],
    [[34,18,10,5,5,1,1,1,0.5,0.5],[30,16,8,3,1,0.5,0,0,0,0],[26,14,6,2,1,0,0,0,0,0],[22,11,5,2,0.5,0,0,0,0,0],[24,12,6,2,0.5,0,0,0,0,0]],
    [[27.7,12,6,3,1,1,0.5,0,0,0],[25,11,5,2,0.5,0,0,0,0,0],[22,9,4,1,0,0,0,0,0,0],[18,7,3,0.5,0,0,0,0,0,0],[20,8,2,0,0,0,0,0,0,0]],
    [[27.7,11,5,3,3,0.5,0,0,0,0],[24,9,4,1,0.5,0,0,0,0,0],[22,8,3,1,0.5,0,0,0,0,0],[18,6,2,0.5,0,0,0,0,0,0],[20,7,2,0.5,0,0,0,0,0,0]],
    [[31,10,4,2,0.5,0,0,0,0,0],[24,8,3,1,0,0,0,0,0,0],[22,7,2.5,0.5,0,0,0,0,0,0],[16,5,1.5,0,0,0,0,0,0,0],[20,7,3,0.5,0,0,0,0,0,0]],
    [[27,8,3,1,0.5,0,0,0,0,0],[24,7,2,0.5,0,0,0,0,0,0],[21,6,1.5,0,0,0,0,0,0,0],[17,5,1,0,0,0,0,0,0,0],[20,6,2,0.5,0,0,0,0,0,0]],
]
TICKS_H100 = [[0,2000,4000,6000],[0,100,200,300],[10,20,30],[0,10,20,30],[0,10,20,30],[0,10,20,30],[0,10,20],[0,10,20],[0,10,20,30],[0,10,20]]

MEANS = [MEAN_H010, MEAN_H020, MEAN_H030, MEAN_H040, MEAN_H050,
         MEAN_H060, MEAN_H070, MEAN_H080, MEAN_H090, MEAN_H100]
LIGHTS = [LIGHT_H010, LIGHT_H020, LIGHT_H030, LIGHT_H040, LIGHT_H050,
          LIGHT_H060, LIGHT_H070, LIGHT_H080, LIGHT_H090, LIGHT_H100]
TICKS = [TICKS_H010, TICKS_H020, TICKS_H030, TICKS_H040, TICKS_H050,
         TICKS_H060, TICKS_H070, TICKS_H080, TICKS_H090, TICKS_H100]

PANEL_W = 146
PANEL_H = 140

panels = []
for r, h2 in enumerate(H2_VALUES):
    for c, p in enumerate(P_VALUES):
        mean = MEANS[r][c]
        lights = LIGHTS[r][c]
        ticks = TICKS[r][c]
        recs = []
        for k, line in enumerate(lights):
            for x, y in zip(X_STEPS, line):
                recs.append({"x": x, "y": y, "run": k})
        light_df = pd.DataFrame(recs)
        mean_df = pd.DataFrame({"x": X_STEPS, "y": mean})
        allv = [v for line in lights for v in line] + list(mean)
        lo, hi = min(allv), max(allv)
        rng = hi - lo
        dom = [lo - 0.05 * rng, hi + 0.05 * rng]
        vis = [t for t in ticks if dom[0] <= t <= dom[1]]
        fmt = ".1f" if any(float(t) != int(t) for t in vis) else "d"
        xenc = alt.X("x:Q", title=None,
                     scale=alt.Scale(domain=[-0.45, 9.45], nice=False, zero=False),
                     axis=alt.Axis(values=X_TICKS, format="d"))
        yenc = alt.Y("y:Q", title=None,
                     scale=alt.Scale(domain=dom, nice=False, zero=False),
                     axis=alt.Axis(values=vis, format=fmt))
        light = alt.Chart(light_df).mark_line(
            color="#add8e6", opacity=0.6, strokeWidth=2, strokeJoin="round"
        ).encode(x=xenc, y=yenc, detail="run:N")
        meanline = alt.Chart(mean_df).mark_line(
            color="#0000ff", strokeWidth=2, strokeJoin="round"
        ).encode(x=xenc, y=yenc)
        title_df = pd.DataFrame({"label": [f"h2={h2:.2f}, P={p:.2f}"]})
        title_mark = alt.Chart(title_df).mark_text(
            font="DejaVu Sans", fontSize=16.7, color="black",
            baseline="alphabetic", align="center",
        ).encode(x=alt.value(PANEL_W / 2), y=alt.value(-7), text="label:N")
        panel = alt.layer(light, meanline, title_mark).properties(
            width=PANEL_W, height=PANEL_H,
        )
        panels.append(panel)

chart = alt.concat(
    *panels, columns=10, spacing={"row": 58.6, "column": 51.8}, bounds="flush"
).resolve_scale(x="independent", y="independent").properties(
    padding={"left": 8.5, "top": 7.5, "right": 5, "bottom": 5},
    background="white",
).configure_view(
    stroke="black", strokeWidth=1.1
).configure_axis(
    labelFont="DejaVu Sans", labelFontSize=13.9, labelColor="black",
    tickColor="black", tickSize=4.9, tickWidth=1.1, labelPadding=4.9,
    domain=False, grid=True, gridColor="#b0b0b0", gridWidth=1.1,
    labelOverlap=False, labelFlush=False,
)

chart.save("out.html", embed_options={"renderer": "svg", "actions": False})
